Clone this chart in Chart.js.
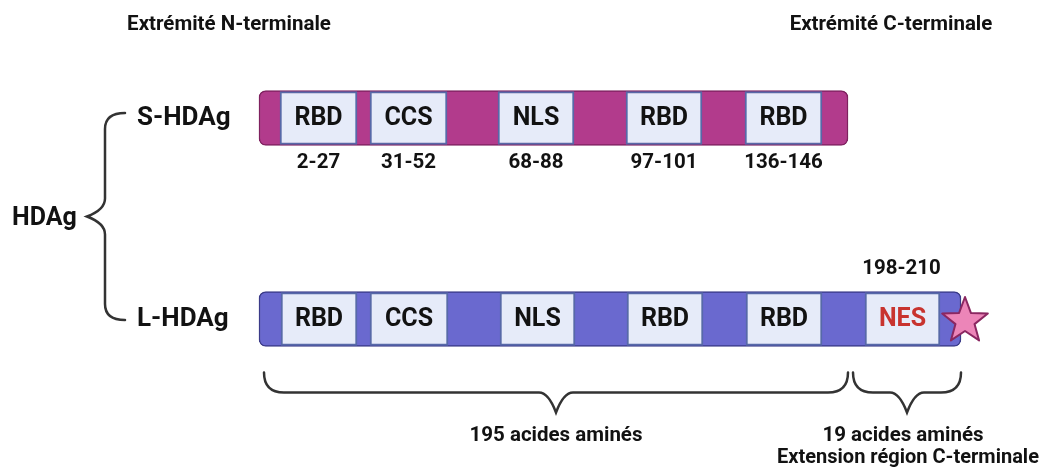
<!DOCTYPE html>
<html>
<head>
<meta charset="utf-8">
<script src="https://cdn.jsdelivr.net/npm/chart.js@4.4.1/dist/chart.umd.min.js"></script>
<style>
  html, body { margin: 0; padding: 0; background: #fff; }
  #wrap { width: 1039px; height: 468px; }
</style>
</head>
<body>
<div id="wrap"><canvas id="hdag" width="1039" height="468"></canvas></div>
<script>
// ── Data (schematic positions along the protein, drawing units) ─────
const rows = ["S-HDAg", "L-HDAg"];
const backboneStart = [259, 259];
const backboneEnd = [848, 961];

const domainNames = ["RBD", "CCS", "NLS", "RBD", "RBD", "NES"];
const domainStartS = [280, 370, 498, 626, 745, null];
const domainEndS = [357, 447, 574, 702, 822, null];
const domainStartL = [281, 370, 500, 627, 746, 865];
const domainEndL = [357, 448, 575, 703, 822, 940];

// residue ranges (amino acids)
const rangesS = ["2-27", "31-52", "68-88", "97-101", "136-146"];
const rangeNES = "198-210";

// lengths under the L form
const braceLabels = ["195 acides aminés", "19 acides aminés"];
const braceStart = [264, 853];
const braceEnd = [848, 961];
const starPos = 965;

const INK = "#121212";
const FONT = "Roboto, 'Noto Sans', sans-serif";

// ── Datasets ────────────────────────────────────────────────────────
const datasets = [{
    label: "backbone",
    data: rows.map((r, i) => [backboneStart[i], backboneEnd[i]]),
    backgroundColor: ["#b23b8c", "#6a69cf"],
    borderColor: ["#7e215f", "#3a3a88"],
    borderWidth: 1.5,
    borderRadius: 7,
    borderSkipped: false,
    barThickness: 55,
    order: 2,
}];

domainNames.forEach((name, i) => {
    datasets.push({
        label: name + " " + i,
        data: [
            domainStartS[i] == null ? null : [domainStartS[i], domainEndS[i]],
            [domainStartL[i], domainEndL[i]],
        ],
        backgroundColor: "#e6ebf9",
        borderColor: "#5769a8",
        borderWidth: 2,
        borderSkipped: false,
        barThickness: 53,
        order: 1,
    });
});

// ── Drawing helpers ─────────────────────────────────────────────────
function txt(ctx, s, x, y, size, color, align) {
    ctx.font = `bold ${size}px ${FONT}`;
    ctx.fillStyle = color || INK;
    ctx.textAlign = align || "center";
    ctx.textBaseline = "middle";
    ctx.fillText(s, x, y);
}

function hBrace(ctx, x0, x1, yTop, yLine, yTip) {
    const mid = (x0 + x1) / 2;
    const r = yLine - yTop;
    ctx.beginPath();
    ctx.moveTo(x0, yTop);
    ctx.quadraticCurveTo(x0, yLine, x0 + r, yLine);
    ctx.lineTo(mid - 17, yLine);
    ctx.bezierCurveTo(mid - 8, yLine, mid - 3, yTip - 8, mid, yTip);
    ctx.bezierCurveTo(mid + 3, yTip - 8, mid + 8, yLine, mid + 17, yLine);
    ctx.lineTo(x1 - r, yLine);
    ctx.quadraticCurveTo(x1, yLine, x1, yTop);
    ctx.stroke();
}

function vBrace(ctx, xEnd, xLine, xTip, y0, y1) {
    const mid = (y0 + y1) / 2;
    ctx.beginPath();
    ctx.moveTo(xEnd, y0);
    ctx.quadraticCurveTo(xLine, y0, xLine, y0 + 16);
    ctx.lineTo(xLine, mid - 18);
    ctx.bezierCurveTo(xLine, mid - 9, xTip + 8, mid - 3, xTip, mid);
    ctx.bezierCurveTo(xTip + 8, mid + 3, xLine, mid + 9, xLine, mid + 18);
    ctx.lineTo(xLine, y1 - 16);
    ctx.quadraticCurveTo(xLine, y1, xEnd, y1);
    ctx.stroke();
}

function star(ctx, cx, cy, R, r) {
    ctx.beginPath();
    for (let k = 0; k < 10; k++) {
        const rad = k % 2 === 0 ? R : r;
        const a = -Math.PI / 2 + k * Math.PI / 5;
        const px = cx + rad * Math.cos(a), py = cy + rad * Math.sin(a);
        if (k === 0) ctx.moveTo(px, py); else ctx.lineTo(px, py);
    }
    ctx.closePath();
    ctx.fillStyle = "#ec85b8";
    ctx.fill();
    ctx.lineJoin = "round";
    ctx.lineWidth = 2;
    ctx.strokeStyle = "#8b2761";
    ctx.stroke();
}

// ── Plugin: labels, braces, star ────────────────────────────────────
const schemePlugin = {
    id: "scheme",
    afterDatasetsDraw(chart) {
        const ctx = chart.ctx;
        const xs = chart.scales.x, ys = chart.scales.y;
        const yS = ys.getPixelForValue(0), yL = ys.getPixelForValue(1);
        const half = 27.5;
        ctx.save();

        // domain names inside the boxes
        domainNames.forEach((name, i) => {
            const col = name === "NES" ? "#c8332f" : INK;
            if (domainStartS[i] != null) {
                txt(ctx, name, xs.getPixelForValue((domainStartS[i] + domainEndS[i]) / 2), yS + 1, 25, col);
            }
            txt(ctx, name, xs.getPixelForValue((domainStartL[i] + domainEndL[i]) / 2), yL + 1, 25, col);
        });

        // residue ranges
        rangesS.forEach((r, i) => {
            txt(ctx, r, xs.getPixelForValue((domainStartS[i] + domainEndS[i]) / 2), yS + half + 17, 20.5);
        });
        txt(ctx, rangeNES, xs.getPixelForValue((domainStartL[5] + domainEndL[5]) / 2) - 1, yL - half - 23, 20.5);

        // row labels and group brace
        rows.forEach((r, i) => txt(ctx, r, 137, ys.getPixelForValue(i), 26, INK, "left"));
        txt(ctx, "HDAg", 12, (yS + yL) / 2, 25, INK, "left");
        ctx.strokeStyle = "#333";
        ctx.lineWidth = 2.5;
        ctx.lineCap = "round";
        vBrace(ctx, 125, 105, 87, yS - 5, yL + 1);

        // headers
        txt(ctx, "Extrémité N-terminale", 229, 25, 20.5);
        txt(ctx, "Extrémité C-terminale", 891, 25, 20.5);

        // bottom braces
        const yTop = yL + half + 26;
        braceLabels.forEach((lab, i) => {
            const x0 = xs.getPixelForValue(braceStart[i]), x1 = xs.getPixelForValue(braceEnd[i]);
            hBrace(ctx, x0, x1, yTop, yTop + 20, yTop + 40);
            txt(ctx, lab, (x0 + x1) / 2 - (i === 1 ? 4 : 0), yTop + 63, 20.5);
        });
        txt(ctx, "Extension région C-terminale", 908, yTop + 85, 20);

        // C-terminal star
        star(ctx, xs.getPixelForValue(starPos), yL + 2, 24, 10);
        ctx.restore();
    }
};

// ── Chart ───────────────────────────────────────────────────────────
new Chart(document.getElementById("hdag").getContext("2d"), {
    type: "bar",
    data: { labels: rows, datasets },
    options: {
        responsive: false,
        animation: false,
        indexAxis: "y",
        layout: { padding: { left: 0, right: 0, top: 17.5, bottom: 48.5 } },
        datasets: { bar: { grouped: false } },
        plugins: { legend: { display: false }, tooltip: { enabled: false } },
        scales: {
            x: { type: "linear", min: 0, max: 1039, display: false },
            y: { type: "category", display: false, offset: true },
        },
    },
    plugins: [schemePlugin],
});
</script>
</body>
</html>
